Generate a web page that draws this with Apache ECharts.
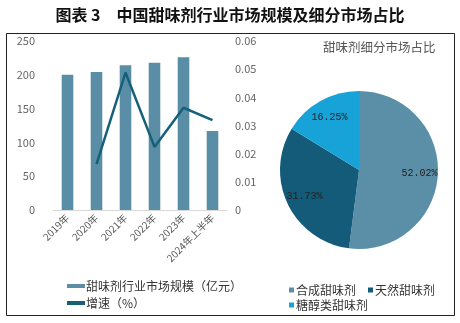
<!DOCTYPE html>
<html><head><meta charset="utf-8">
<script src="https://cdn.jsdelivr.net/npm/echarts@6/dist/echarts.min.js"></script>
<style>html,body{margin:0;padding:0;background:#fff}#c{width:460px;height:323px}</style>
</head><body><div id="c"></div>
<script>
const categories = ['2019年','2020年','2021年','2022年','2023年','2024年上半年'];
const marketSize = [200, 204, 214, 218, 226, 117];
const growth = [null, 0.0163, 0.0488, 0.0224, 0.0363, 0.0319];
const leftTicks = [0, 50, 100, 150, 200, 250];
const rightTicks = [0, 0.01, 0.02, 0.03, 0.04, 0.05, 0.06];
const pieNames = ['合成甜味剂','天然甜味剂','糖醇类甜味剂'];
const pieValues = [52.02, 31.73, 16.25];
const pieLabels = ['52.02%','31.73%','16.25%'];

const chart = echarts.init(document.getElementById('c'), null, {renderer:'canvas'});
const font = '"Noto Sans CJK SC", sans-serif';
const pieColors = ['#5b8fa8','#135b78','#17a2d8'];
const legText = {fontSize:12, color:'#333', fontFamily:font, padding:[0,0,0,-3]};
chart.setOption({
  animation:false,
  color: pieColors,
  title:[
    {text:'图表 3　中国甜味剂行业市场规模及细分市场占比', left:'center', top:2,
     textStyle:{fontSize:16, fontWeight:'bold', color:'#111', fontFamily:font}},
    {text:'甜味剂细分市场占比', left:318, top:36,
     textStyle:{fontSize:12.5, fontWeight:'normal', color:'#555', fontFamily:font}}
  ],
  graphic:[{type:'rect', shape:{x:6.5,y:33.5,width:448,height:282}, style:{fill:'none', stroke:'#222', lineWidth:1}, silent:true}],
  legend:[
    {data:[{name:'甜味剂行业市场规模（亿元）', icon:'rect', itemStyle:{color:'#5a8ea6'}},{name:'增速（%）', icon:'rect', itemStyle:{color:'#17607a'}}],
     orient:'vertical', left:62, top:275, itemWidth:18, itemHeight:4, itemGap:5,
     textStyle:{fontSize:12, color:'#333', fontFamily:font, padding:[0,0,0,-4]}},
    {data:[pieNames[0], pieNames[1]], left:284, top:279, itemWidth:5, itemHeight:5, itemGap:12, icon:'rect',
     textStyle:legText},
    {data:[pieNames[2]], left:284, top:294, itemWidth:5, itemHeight:5, icon:'rect',
     textStyle:legText}
  ],
  grid:{left:53, right:233, top:41, bottom:113},
  xAxis:{type:'category', data:categories,
    axisLine:{lineStyle:{color:'#d9d9d9'}}, axisTick:{show:false},
    axisLabel:{rotate:45, interval:0, fontSize:10, color:'#555', margin:6, fontFamily:font}},
  yAxis:[
    {type:'value', min:0, max:250, interval:50, splitLine:{show:false},
     axisLabel:{fontSize:11, color:'#666', margin:18, fontFamily:font}},
    {type:'value', min:0, max:0.06, interval:0.01, splitLine:{show:false},
     axisLabel:{fontSize:11, color:'#666', margin:8, fontFamily:font, formatter:v=>v===0?'0':v.toFixed(2)}}
  ],
  series:[
    {name:'甜味剂行业市场规模（亿元）', type:'bar', data:marketSize, barWidth:'40%',
     itemStyle:{color:'#5a8ea6'}},
    {name:'增速（%）', type:'line', yAxisIndex:1, data:growth, symbol:'none',
     lineStyle:{color:'#17607a', width:2.5}, itemStyle:{color:'#17607a'}},
    {type:'pie', center:[359,170], radius:79, startAngle:90, clockwise:true,
     data:pieNames.map((n,i)=>({name:n, value:pieValues[i]})),
     label:{show:false}, labelLine:{show:false}, emphasis:{disabled:true}},
    {type:'pie', center:[359,170], radius:[36,79], startAngle:90, clockwise:true, silent:true,
     data:pieNames.map((n,i)=>({name:n+' ', value:pieValues[i], label:{formatter:pieLabels[i]}})),
     itemStyle:{color:'rgba(0,0,0,0)'},
     label:{position:'inside', fontSize:10, color:'#222', fontFamily:'"Liberation Mono", monospace'},
     labelLine:{show:false}, emphasis:{disabled:true}}
  ]
});
</script></body></html>
